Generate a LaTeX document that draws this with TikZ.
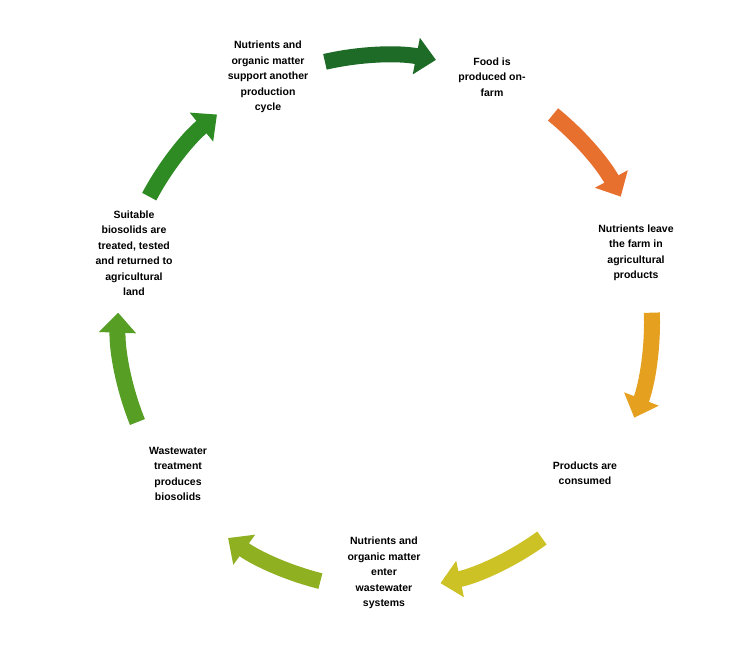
\documentclass[tikz,border=0pt]{standalone}
\usepackage{fontspec}
\setmainfont{Liberation Sans}
\usetikzlibrary{arrows.meta}
\definecolor{cA}{HTML}{1E6B27}
\definecolor{cB}{HTML}{E8702F}
\definecolor{cC}{HTML}{E5A020}
\definecolor{cD}{HTML}{CCC125}
\definecolor{cE}{HTML}{8FB021}
\definecolor{cF}{HTML}{579E25}
\definecolor{cG}{HTML}{2E8B24}
\begin{document}
\begin{tikzpicture}[x=1pt,y=-1pt,
    stage/.style={font=\bfseries\fontsize{10.5}{15.5}\selectfont, align=center, inner sep=1pt},
    loop/.style={line width=16pt, -{Triangle[width=36pt,length=20pt]}}]
    \useasboundingbox (0,0) rectangle (745,647);
    \coordinate (c) at (385,322);
    % steps of the cycle
    \node[stage] (feed) at (268,77) {Nutrients and\\organic matter\\support another\\production\\cycle};
    \node[stage] (food) at (492,77) {Food is\\produced on-\\farm};
    \node[stage] (leave) at (636,253) {Nutrients leave\\the farm in\\agricultural\\products};
    \node[stage] (eat) at (585,473) {Products are\\consumed};
    \node[stage] (enter) at (384,573) {Nutrients and\\organic matter\\enter\\wastewater\\systems};
    \node[stage] (treat) at (178,474) {Wastewater\\treatment\\produces\\biosolids};
    \node[stage] (return) at (134,253) {Suitable\\biosolids are\\treated, tested\\and returned to\\agricultural\\land};
    % curved arrows
    \draw[loop, cA] (c) ++(-103:267) arc (-103:-79:267);
    \draw[loop, cB] (c) ++(-51:267) arc (-51:-28:267);
    \draw[loop, cC] (c) ++(-2:267) arc (-2:21:267);
    \draw[loop, cD] (c) ++(54:267) arc (54:78:267);
    \draw[loop, cE] (c) ++(104:267) arc (104:126:267);
    \draw[loop, cF] (c) ++(158:267) arc (158:182:267);
    \draw[loop, cG] (c) ++(208:267) arc (208:231:267);
\end{tikzpicture}
\end{document}
